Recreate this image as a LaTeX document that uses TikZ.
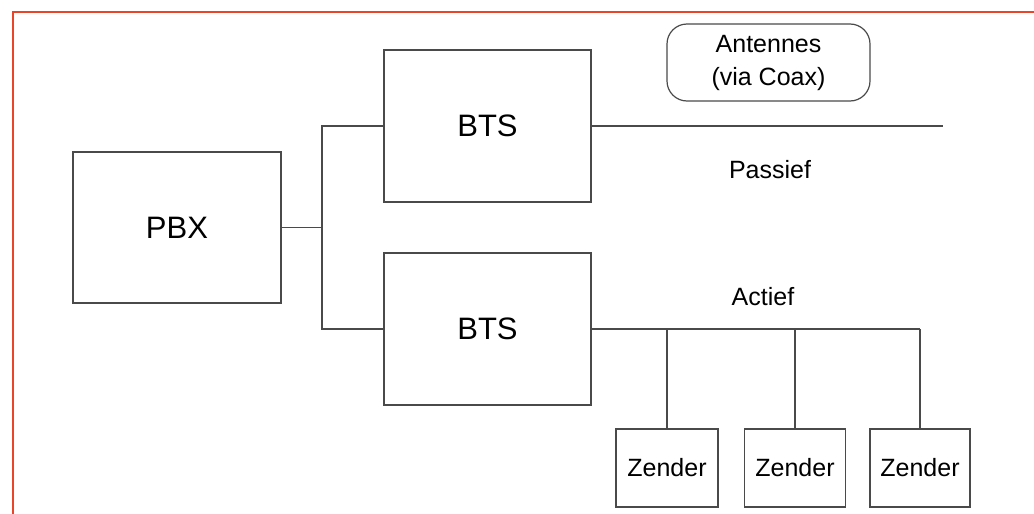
\documentclass[tikz,border=0pt]{standalone}
\usepackage{fontspec}
\setmainfont{Liberation Sans}
\definecolor{linegray}{HTML}{4A4A4A}
\definecolor{frameorange}{HTML}{E8452A}
\begin{document}
\begin{tikzpicture}[x=1pt,y=-1pt,
  box/.style={draw=linegray,line width=1.2pt,rectangle,inner sep=0pt},
  wire/.style={draw=linegray,line width=1.2pt},
  bigtxt/.style={font=\fontsize{31}{36}\selectfont},
  smalltxt/.style={font=\fontsize{25}{30}\selectfont}]
\useasboundingbox (0,0) rectangle (1034,514);
% page frame
\draw[frameorange,line width=1.6pt] (13,514) -- (13,12) -- (1034,12);

% main boxes
\node[box,bigtxt,minimum width=208pt,minimum height=151pt] (pbx) at (177,227.5) {PBX};
\node[box,bigtxt,minimum width=207pt,minimum height=152pt] (bts1) at (487.5,126) {BTS};
\node[box,bigtxt,minimum width=207pt,minimum height=152pt] (bts2) at (487.5,329) {BTS};
\node[box,smalltxt,rounded corners=20pt,minimum width=203pt,minimum height=77pt,align=center,
      font=\fontsize{25}{33}\selectfont] (ant) at (768.5,62.5) {Antennes\\(via Coax)};

% transmitters
\node[box,smalltxt,minimum width=102pt,minimum height=78pt] (z1) at (667,468) {Zender};
\node[box,smalltxt,minimum width=101pt,minimum height=78pt] (z2) at (795,468) {Zender};
\node[box,smalltxt,minimum width=100pt,minimum height=78pt] (z3) at (920,468) {Zender};

% labels
\node[smalltxt] (passief) at (770,170) {Passief};
\node[smalltxt] (actief) at (763,297) {Actief};

% connectors
\coordinate (j) at (322,227.5);
\coordinate (pend) at (943,126);
\coordinate (aend) at (z3.north |- bts2.east);
\draw[wire] (pbx.east) -- (j);
\draw[wire] (bts1.west) -| (j) |- (bts2.west);
\draw[wire] (bts1.east) -- (pend);
\draw[wire] (bts2.east) -- (aend);
\draw[wire] (z1.north) -- (z1.north |- bts2.east);
\draw[wire] (z2.north) -- (z2.north |- bts2.east);
\draw[wire] (z3.north) -- (aend);
\end{tikzpicture}
\end{document}
